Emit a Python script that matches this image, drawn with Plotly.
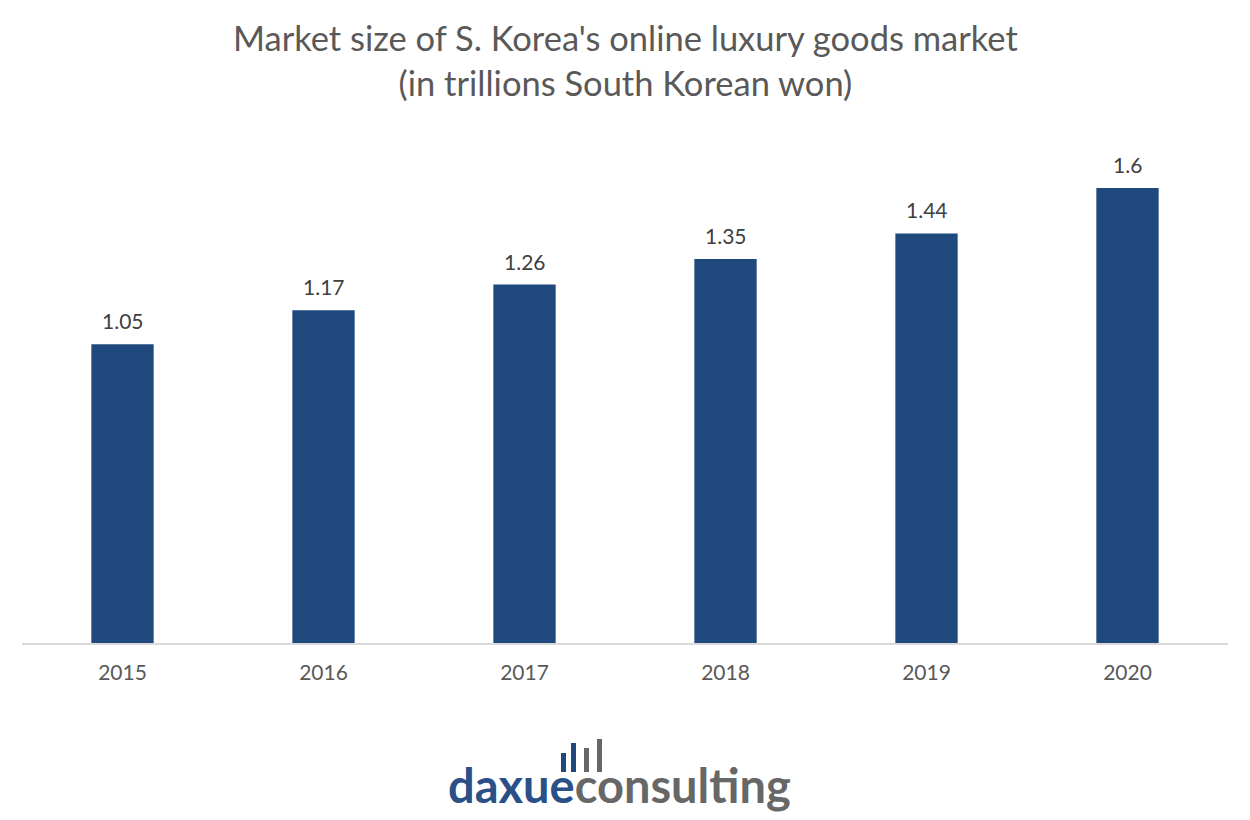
import plotly.graph_objects as go

years = ["2015", "2016", "2017", "2018", "2019", "2020"]
values = [1.05, 1.17, 1.26, 1.35, 1.44, 1.6]
labels = ["1.05", "1.17", "1.26", "1.35", "1.44", "1.6"]

BLUE = "#1f497d"
FONT = "Lato"

fig = go.Figure()
fig.add_trace(go.Bar(
    x=years, y=values, width=0.31,
    marker=dict(color=BLUE, line=dict(width=0)),
))

# data labels: category index positions on the category axis
for i, (v, lab) in enumerate(zip(values, labels)):
    fig.add_annotation(x=i, y=v, text=lab, showarrow=False,
                       xanchor="center", yanchor="bottom", yshift=9,
                       font=dict(family=FONT, size=21, color="#404040"))

W, H = 1250 - 44, 820 - 131 - 177
def px(xp):
    return (xp - 22) / W
def py(yp):
    return (643 - yp) / H

fig.update_layout(
    width=1250, height=820,
    margin=dict(l=22, r=22, t=131, b=177),
    paper_bgcolor="white", plot_bgcolor="white",
    showlegend=False,
    xaxis=dict(
        type="category", range=[-0.5, len(years) - 0.5],
        showline=True, linecolor="#d9d9d9", linewidth=1.5,
        ticks="", ticklabelstandoff=10,
        tickfont=dict(family=FONT, size=21, color="#595959"),
        showgrid=False,
    ),
    yaxis=dict(range=[0, 1.8], visible=False, showgrid=False),
)

# title
fig.add_annotation(
    xref="paper", yref="paper", x=0.5, y=py(60), xanchor="center", yanchor="middle",
    text="Market size of S. Korea's online luxury goods market<br>(in trillions South Korean won)",
    showarrow=False, align="center",
    font=dict(family=FONT, size=34.5, color="#595959"),
)

# logo text
fig.add_annotation(
    xref="paper", yref="paper", x=px(619), y=py(785), xanchor="center", yanchor="middle",
    text="<b><span style='color:#2a5087'>daxue</span><span style='color:#676767'>consulting</span></b>",
    showarrow=False, font=dict(family=FONT, size=47),
)

# logo icon bars (decorative)
icon = [(561, 566, 753, BLUE), (571, 576, 743, BLUE), (584, 589, 748, "#676767"), (597, 602, 739, "#676767")]
for x0, x1, top, c in icon:
    fig.add_shape(type="rect", xref="paper", yref="paper",
                  x0=px(x0), x1=px(x1), y0=py(772), y1=py(top),
                  fillcolor=c, line=dict(width=0), layer="above")

fig.write_html("out.html")
